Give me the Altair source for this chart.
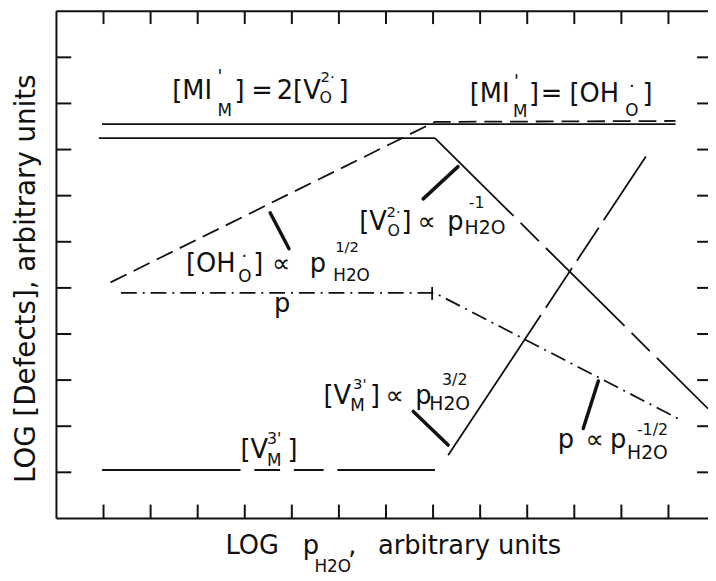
import altair as alt
import pandas as pd

# ---------------- data (log units) ----------------
XMAX, YMAX = 13.84, 11.0
x_ticks = list(range(1, 14))
y_ticks = list(range(1, 11))

# [MI'_M] (solid)
mi_x = [0.97, 13.15]
mi_y = [8.55, 8.55]
# [V_O] horizontal part (solid) and slope -1 part
vo_h_x = [0.90, 8.04]
vo_h_y = [8.25, 8.25]
vo_s_x = [8.04, 13.84]
vo_s_y = [8.25, 2.38]
# [OH_O] (dashed), slope +1/2 then flat
oh_x = [1.15, 8.04, 13.15]
oh_y = [5.12, 8.60, 8.62]
# p (dash-dot), flat then slope -1/2
p_x = [1.37, 8.04, 13.29]
p_y = [4.89, 4.89, 2.12]
p_mark_x = [7.98, 7.98]
p_mark_y = [5.02, 4.74]
# [V_M] flat then slope +3/2
vm_h_x = [0.97, 8.04]
vm_h_y = [1.05, 1.05]
vm_r_x = [8.32, 12.52]
vm_r_y = [1.37, 7.85]
# pointer strokes from labels to lines
ptr_id = ["a", "a", "b", "b", "c", "c", "d", "d"]
ptr_x = [4.54, 4.94, 7.79, 8.53, 7.58, 8.32, 11.51, 11.19]
ptr_y = [6.63, 5.85, 6.93, 7.63, 2.32, 1.59, 2.98, 1.95]

# label pieces: text, x, y (baseline), font size
lab_text = [
    "[MI", "'", "M", "]", "=", "2[V", "2·", "O", "]",
    "[MI", "'", "M", "]", "=", "[OH", "·", "O", "]",
    "[OH", "·", "O", "]", "∝", "p", "1/2", "H2O",
    "[V", "2·", "O", "]", "∝", "p", "-1", "H2O",
    "p",
    "[V", "3'", "M", "]", "∝", "p", "3/2", "H2O",
    "[V", "3'", "M", "]",
    "p", "∝", "p", "-1/2", "H2O",
    "LOG", "p", "H2O", ",", "arbitrary units",
]
lab_x = [
    2.46, 3.42, 3.42, 3.78, 4.14, 4.68, 5.61, 5.59, 5.99,
    8.78, 9.72, 9.70, 10.04, 10.29, 10.90, 12.16, 12.08, 12.45,
    2.75, 3.93, 3.86, 4.18, 4.58, 5.38, 5.92, 5.88,
    6.43, 7.01, 7.03, 7.33, 7.67, 8.30, 8.76, 8.67,
    4.62,
    5.67, 6.30, 6.24, 6.66, 6.99, 7.62, 8.19, 7.92,
    3.91, 4.47, 4.47, 4.91,
    10.65, 11.24, 11.76, 12.33, 12.12,
    3.59, 5.23, 5.48, 6.20, 6.83,
]
lab_y = [
    9.09, 9.46, 8.72, 9.09, 9.09, 9.09, 9.46, 9.00, 9.09,
    9.03, 9.36, 8.71, 9.03, 9.03, 9.03, 9.24, 8.73, 9.03,
    5.34, 5.57, 5.13, 5.34, 5.34, 5.34, 5.77, 5.15,
    6.26, 6.53, 6.12, 6.26, 6.26, 6.26, 6.73, 6.16,
    4.48,
    2.49, 2.81, 2.33, 2.49, 2.49, 2.49, 2.89, 2.36,
    1.31, 1.61, 1.14, 1.31,
    1.52, 1.52, 1.52, 1.82, 1.29,
    -0.77, -0.77, -1.16, -0.77, -0.77,
]
lab_size = [
    26, 18, 17, 26, 26, 26, 15, 16, 26,
    26, 18, 17, 26, 26, 26, 18, 17, 26,
    26, 18, 17, 26, 26, 26, 15, 17,
    26, 15, 16, 26, 26, 26, 16, 19,
    26,
    26, 15, 17, 26, 26, 26, 16, 19,
    26, 16, 17, 26,
    26, 26, 26, 16, 19,
    26, 26, 17, 26, 26,
]

# ---------------- chart ----------------
W, H = 659, 513
INK = "#111111"
FONT = "DejaVu Sans"

xs = alt.Scale(domain=[0, XMAX], nice=False, zero=False)
ys = alt.Scale(domain=[0, YMAX], nice=False, zero=False)
y_axis = alt.Axis(
    title="LOG [Defects], arbitrary units", labels=False, ticks=False,
    domain=False, grid=False, titleFont=FONT, titleFontSize=28,
    titleFontWeight="normal", titleColor=INK, titleAngle=270,
    titleAlign="center", titleBaseline="alphabetic", titleX=-22, titleY=270,
)


def X(f="x"):
    return alt.X(f"{f}:Q", scale=xs, axis=None)


def Y(f="y"):
    return alt.Y(f"{f}:Q", scale=ys, axis=y_axis)


def path(xv, yv, name):
    return pd.DataFrame({"id": name, "i": range(len(xv)), "x": xv, "y": yv})


def line(df, dash=None, width=1.8):
    kw = dict(color=INK, strokeWidth=width, clip=True)
    if dash:
        kw["strokeDash"] = dash
    return alt.Chart(df).mark_line(**kw).encode(
        x=X(), y=Y(), order="i:Q", detail="id:N")


frame = alt.Chart(pd.DataFrame({
    "x": [0, 0, 0], "x2": [0, XMAX, XMAX],
    "y": [0, YMAX, 0], "y2": [YMAX, YMAX, 0],
})).mark_rule(color=INK, strokeWidth=2).encode(
    x=X(), x2="x2:Q", y=Y(), y2="y2:Q")

xt = pd.DataFrame({"x": x_ticks})
yt = pd.DataFrame({"y": y_ticks})
t_bottom = alt.Chart(xt).mark_rule(color=INK, strokeWidth=2).encode(
    x=X(), y=alt.value(H), y2=alt.value(H - 14))
t_top = alt.Chart(xt).mark_rule(color=INK, strokeWidth=2).encode(
    x=X(), y=alt.value(0), y2=alt.value(13))
t_left = alt.Chart(yt).mark_rule(color=INK, strokeWidth=2).encode(
    y=Y(), x=alt.value(0), x2=alt.value(15))
t_right = alt.Chart(yt).mark_rule(color=INK, strokeWidth=2).encode(
    y=Y(), x=alt.value(W - 11), x2=alt.value(W))

solid = pd.concat([path(mi_x, mi_y, "mi"), path(vo_h_x, vo_h_y, "voh"),
                   path(p_mark_x, p_mark_y, "pm")])
layers = [
    frame, t_bottom, t_top, t_left, t_right,
    line(solid),
    line(path(vo_s_x, vo_s_y, "vos"), dash=[112, 10, 26, 10]),
    line(path(oh_x, oh_y, "oh"), dash=[18, 8]),
    line(path(p_x, p_y, "p"), dash=[16, 6, 2, 6]),
    line(path(vm_h_x, vm_h_y, "vmh"), dash=[140, 14, 26, 14, 30, 14, 200]),
    line(path(vm_r_x, vm_r_y, "vmr"), dash=[170, 9, 48, 9, 40, 9]),
    alt.Chart(pd.DataFrame({"id": ptr_id, "x": ptr_x, "y": ptr_y}))
    .mark_line(color=INK, strokeWidth=3.5, strokeCap="round")
    .encode(x=X(), y=Y(), detail="id:N"),
    alt.Chart(pd.DataFrame({"t": lab_text, "x": lab_x, "y": lab_y, "s": lab_size}))
    .mark_text(align="left", baseline="alphabetic", font=FONT, color=INK)
    .encode(x=X(), y=Y(), text="t:N", size=alt.Size("s:Q", scale=None, legend=None)),
]

chart = alt.layer(*layers).properties(
    width=W, height=H,
    autosize=alt.AutoSizeParams(type="none"),
    padding={"left": 49, "top": 0, "right": 0, "bottom": 58},
    background="white",
).configure_view(stroke=None)

chart.save("out.html", embed_options={"renderer": "svg", "actions": False})
